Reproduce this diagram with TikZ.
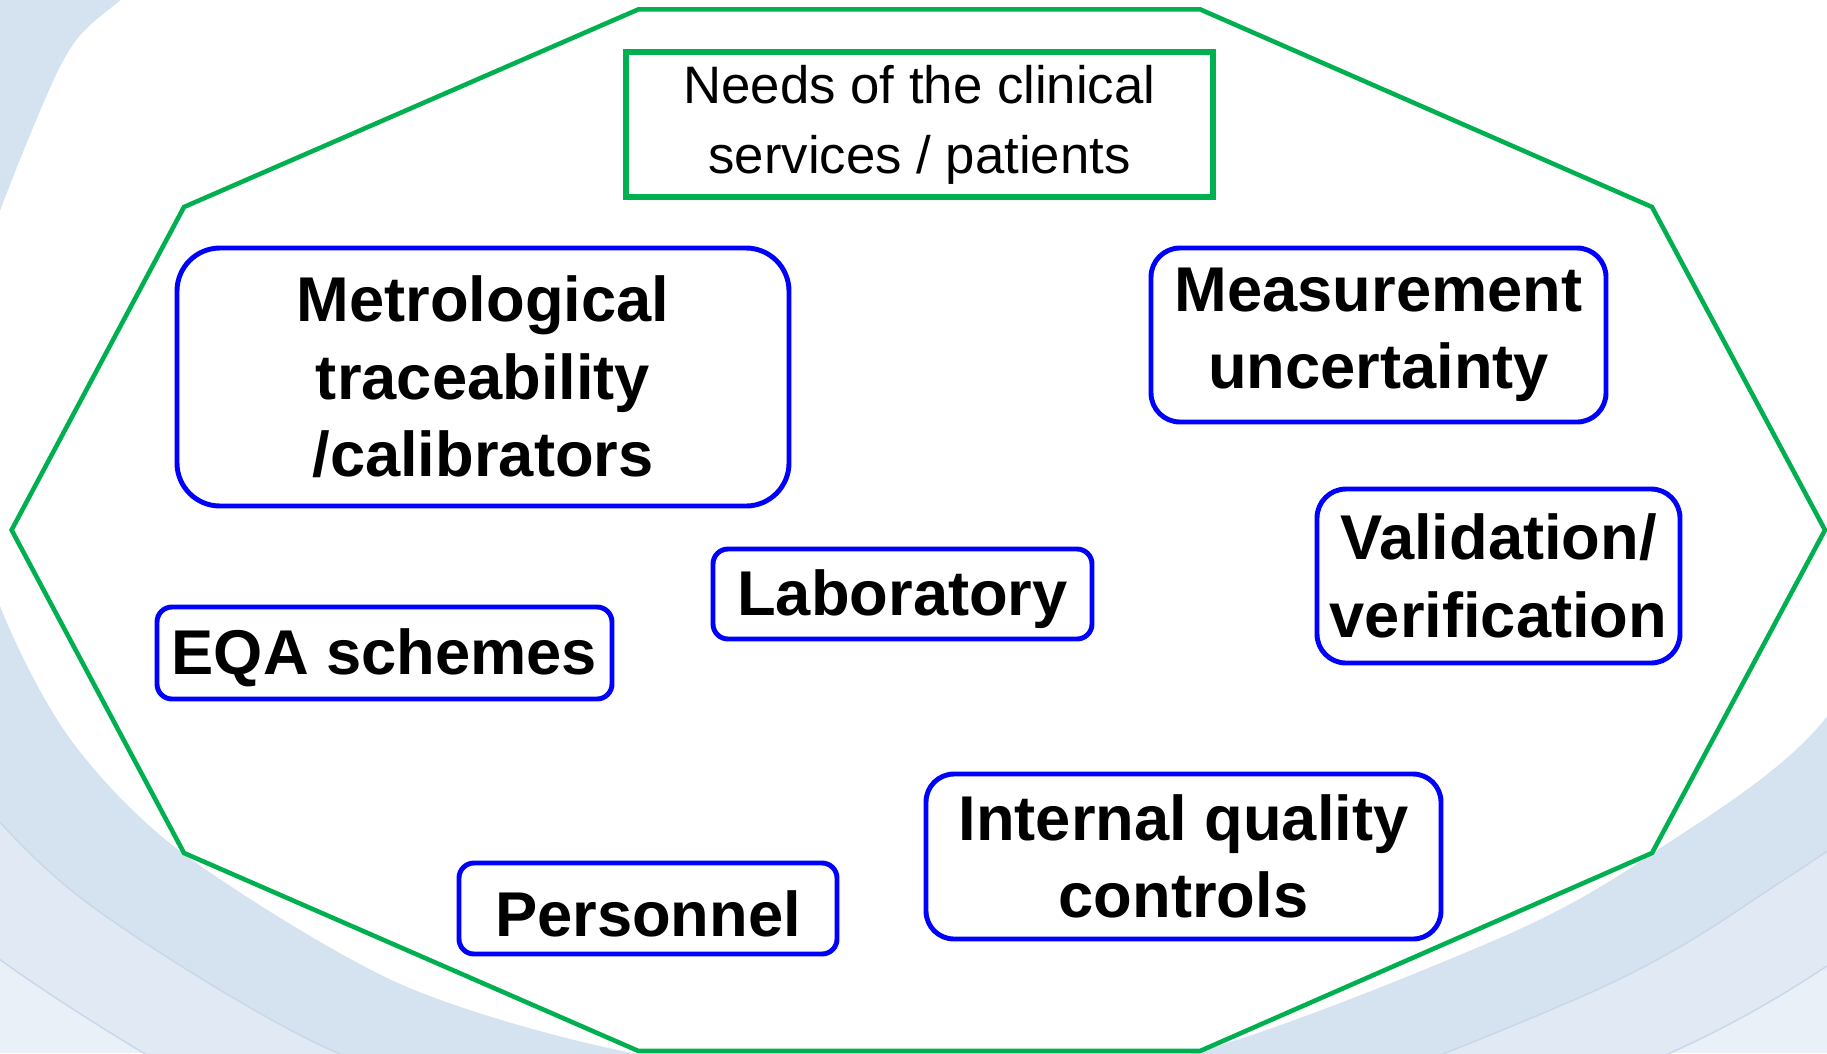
\documentclass[tikz,border=0pt]{standalone}
\usepackage{fontspec}
\setmainfont{Liberation Sans}

\definecolor{hullgreen}{HTML}{00B050}
\definecolor{boxblue}{HTML}{0000FF}
\definecolor{cornerpale}{HTML}{EAF0F8}
\definecolor{bandpale}{HTML}{E0E9F4}
\definecolor{banddeep}{HTML}{D5E2F0}
\definecolor{bandline}{HTML}{C8D7E9}

\tikzset{
    topic/.style={draw=boxblue, line width=1.4pt, align=center, inner sep=0pt,
        font=\bfseries\fontsize{18}{22}\selectfont,
        execute at begin node={\rule{0pt}{16pt}}},
    needs/.style={draw=hullgreen, line width=1.8pt, align=center, inner sep=0pt,
        font=\fontsize{15}{19.9}\selectfont,
        execute at begin node={\rule{0pt}{13pt}}},
    hull/.style={draw=hullgreen, line width=1.3pt, line join=miter},
}

\begin{document}
\begin{tikzpicture}[y=-1cm]
    \useasboundingbox (0, 0) rectangle (18.27, 10.53);
    \clip (0, 0) rectangle (18.27, 10.53);

    % pale swoosh in the background
    \fill [cornerpale] (0, 0) rectangle (18.27, 10.53);
    \foreach \s/\c/\l in {1.26/bandpale/bandline, 1.13/banddeep/bandline, 1/white/white}
        \filldraw [fill=\c, draw=\l, line width=0.4pt, scale around={\s:(9.15, 4.6)}]
            plot [smooth cycle] coordinates {(1.22, 0) (0.5, 0.9) (-0.6, 4.1) (0, 6.04)
                (0.72, 7.4) (1.84, 8.53) (4.0, 9.83) (6.36, 10.53) (9.15, 10.85)
                (11.9, 10.53) (15.0, 9.37) (16.53, 8.52) (18.27, 7.15) (19.6, 4.5)
                (19.8, 0.5) (17, -1.5) (9, -1.8) (3.2, -1.3)};

    % decagon around everything
    \draw [hull] (6.385, 0.093) -- (12.0, 0.093) -- (16.52, 2.07) -- (18.25, 5.30)
        -- (16.52, 8.53) -- (12.0, 10.51) -- (6.385, 10.51) -- (1.84, 8.53)
        -- (0.116, 5.30) -- (1.84, 2.07) -- cycle;

    \node [needs, minimum width=5.87cm, minimum height=1.45cm] (needs) at (9.195, 1.245) {Needs of the clinical \\ services / patients};

    \node [topic, minimum width=6.12cm, minimum height=2.58cm, rounded corners=0.43cm] (metro) at (4.83, 3.77) {Metrological \\ traceability \\ /calibrators};
    \node [topic, minimum width=4.55cm, minimum height=1.74cm, rounded corners=0.29cm] (uncert) at (13.785, 3.35) {Measurement \\ uncertainty};
    \node [topic, minimum width=3.63cm, minimum height=1.74cm, rounded corners=0.29cm] (valid) at (14.985, 5.76) {Validation/ \\ verification};
    \node [topic, minimum width=3.79cm, minimum height=0.9cm, rounded corners=0.15cm] (lab) at (9.025, 5.94) {Laboratory};
    \node [topic, minimum width=4.55cm, minimum height=0.92cm, rounded corners=0.15cm] (eqa) at (3.845, 6.53) {EQA schemes};
    \node [topic, minimum width=5.15cm, minimum height=1.65cm, rounded corners=0.28cm] (iqc) at (11.835, 8.565) {Internal quality \\ controls};
    \node [topic, minimum width=3.78cm, minimum height=0.91cm, rounded corners=0.15cm] (staff) at (6.48, 9.085) {Personnel};

\end{tikzpicture}
\end{document}
